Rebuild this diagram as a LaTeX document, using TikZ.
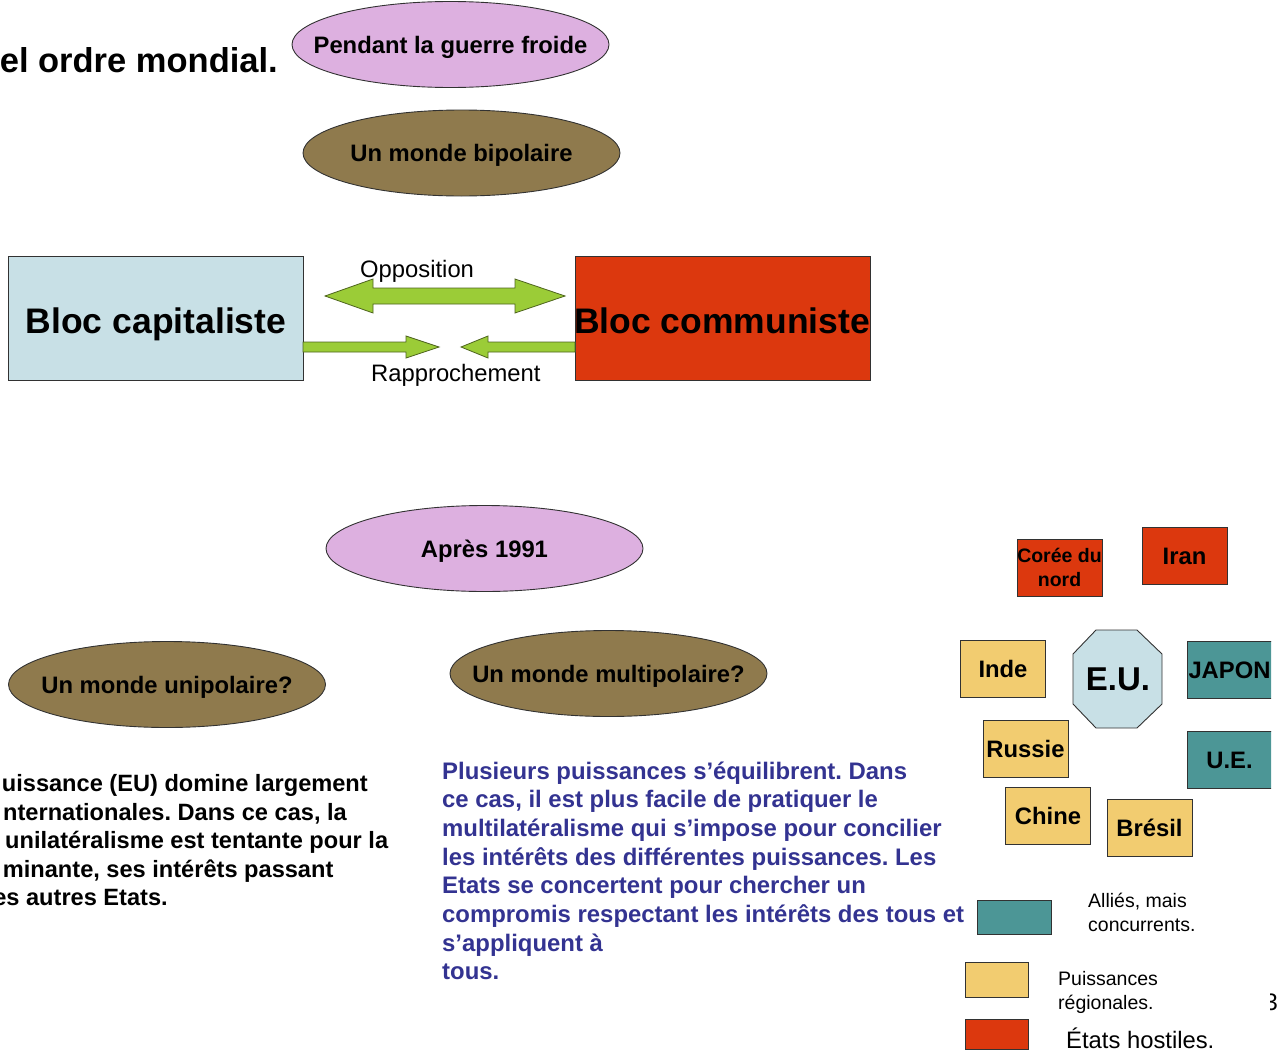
\documentclass[tikz,border=0pt]{standalone}
\usepackage{fontspec}
\setmainfont{Liberation Sans}
\usetikzlibrary{shapes.geometric}
\frenchspacing

\definecolor{violetfill}{RGB}{221,176,224}
\definecolor{brownfill}{RGB}{143,122,77}
\definecolor{blocblue}{RGB}{200,224,230}
\definecolor{blocred}{RGB}{220,56,14}
\definecolor{tealfill}{RGB}{76,150,150}
\definecolor{yellowfill}{RGB}{242,204,112}
\definecolor{arrowgreen}{RGB}{155,204,55}
\definecolor{arrowedge}{RGB}{78,100,30}
\definecolor{textblue}{RGB}{51,51,145}
\definecolor{edgegray}{RGB}{50,50,50}

% zero-width box so the ellipse keeps its own size
\newcommand{\centred}[1]{\makebox[0pt]{#1}}

\begin{document}
\begin{tikzpicture}[x=1pt,y=-1pt,
  bubble/.style={ellipse, draw=edgegray, line width=0.9pt, inner sep=0pt,
    minimum width=317pt, minimum height=86pt,
    font=\fontsize{23.8}{28}\selectfont\bfseries, text height=17pt, text depth=0pt},
  blocbox/.style={draw=edgegray, line width=0.9pt, minimum width=295pt, minimum height=124pt, inner sep=0pt},
  bloctext/.style={font=\fontsize{35.5}{40}\selectfont\bfseries, inner sep=0pt, anchor=base},
  countrybox/.style={draw=edgegray, line width=0.8pt, minimum width=85pt, minimum height=57pt, inner sep=0pt,
    font=\fontsize{23.8}{28}\selectfont\bfseries, text height=17pt, text depth=0pt},
  smallbox/.style={draw=edgegray, line width=0.8pt, minimum width=85pt, minimum height=57pt, inner sep=0pt,
    font=\fontsize{19.5}{23.5}\selectfont\bfseries, align=center},
  keybox/.style={draw=edgegray, line width=0.8pt, inner sep=0pt},
  plaintext/.style={font=\fontsize{23.8}{28}\selectfont, inner sep=0pt},
  keytext/.style={font=\fontsize{19.5}{24}\selectfont, inner sep=0pt, anchor=base west},
  bodytext/.style={font=\fontsize{23.9}{28.7}\selectfont\bfseries, inner sep=0pt},
  lefttext/.style={font=\fontsize{23.6}{28.7}\selectfont\bfseries, inner sep=0pt},
  blockarrow/.style={fill=arrowgreen, draw=arrowedge, line width=0.8pt, line join=miter}
]
\useasboundingbox (0,0) rectangle (1288,1052);
\clip (0,0) rectangle (1288,1052);

% title, cut at the left edge
\node[font=\fontsize{34.5}{40}\selectfont\bfseries, inner sep=0pt, anchor=base east] (title) at (278,72) {el ordre mondial.};

% cold war part
\node[bubble, fill=violetfill] (froide) at (450.5,44.5) {\centred{Pendant la guerre froide}};
\node[bubble, fill=brownfill] (bipol) at (461.5,153) {\centred{Un monde bipolaire}};

\node[blocbox, fill=blocblue] (cap) at (155.5,318) {};
\node[bloctext] (captxt) at (156,333) {Bloc capitaliste};
\node[blocbox, fill=blocred] (com) at (722.5,318) {};
\node[bloctext, anchor=base west] (comtxt) at (574,333) {Bloc communiste};

% opposition double arrow
\draw[blockarrow] (325,296) -- (373,279) -- (373,288) -- (515,288) -- (515,279)
  -- (565,296) -- (515,313) -- (515,304) -- (373,304) -- (373,313) -- cycle;
\node[plaintext, anchor=base west] (opp) at (360,277) {Opposition};

% rapprochement arrows
\draw[blockarrow] (303,342) -- (406,342) -- (406,336) -- (439,347) -- (406,358) -- (406,352) -- (303,352) -- cycle;
\draw[blockarrow] (575,342) -- (488,342) -- (488,336) -- (461,347) -- (488,358) -- (488,352) -- (575,352) -- cycle;
\node[plaintext, anchor=base west] (rap) at (371,381) {Rapprochement};

% after 1991
\node[bubble, fill=violetfill] (apres) at (484.5,548.5) {\centred{Après 1991}};
\node[bubble, fill=brownfill] (unipol) at (167,684.5) {\centred{Un monde unipolaire?}};
\node[bubble, fill=brownfill] (multi) at (608.5,673.5) {\centred{Un monde multipolaire?}};

% unipolar text, cut at the left edge
\node[lefttext, anchor=base west] (u1) at (1.7,791) {uissance (EU) domine largement};
\node[lefttext, anchor=base west] (u2) at (3,820) {nternationales. Dans ce cas, la};
\node[lefttext, anchor=base west] (u3) at (5,848) {unilatéralisme est tentante pour la};
\node[lefttext, anchor=base west] (u4) at (2.7,877) {minante, ses intérêts passant};
\node[lefttext, anchor=base east] (u5) at (168,905) {es autres Etats.};

% multipolar text
\begin{scope}[every node/.style={bodytext, text=textblue, anchor=base west}]
\node (m1) at (442,779) {Plusieurs puissances s’équilibrent. Dans};
\node (m2) at (442,807.7) {ce cas, il est plus facile de pratiquer le};
\node (m3) at (442,836.4) {multilatéralisme qui s’impose pour concilier};
\node (m4) at (442,865.1) {les intérêts des différentes puissances. Les};
\node (m5) at (442,893.8) {Etats se concertent pour chercher un};
\node (m6) at (442,922.5) {compromis respectant les intérêts des tous et};
\node (m7) at (442,951.2) {s’appliquent à};
\node (m8) at (442,979.9) {tous.};
\end{scope}

% powers around the United States
\node[smallbox, fill=blocred] (coree) at (1059.5,567.5) {Corée du\\nord};
\node[countrybox, fill=blocred] (iran) at (1184.5,556) {Iran};
\node[countrybox, fill=yellowfill] (inde) at (1003,669) {Inde};
\node[countrybox, fill=yellowfill] (russie) at (1025.5,748.5) {Russie};
\node[countrybox, fill=yellowfill] (chine) at (1048,816) {Chine};
\node[countrybox, fill=yellowfill] (bresil) at (1149.5,828) {Brésil};
\begin{scope}
\clip (0,0) rectangle (1271,1052);
\node[countrybox, fill=tealfill] (japon) at (1229.5,669.5) {JAPON};
\node[countrybox, fill=tealfill] (ue) at (1229.5,759.5) {U.E.};
\end{scope}

\draw[fill=blocblue, draw=edgegray, line width=0.9pt]
  (1096,630) -- (1137,630) -- (1162,654) -- (1162,704) -- (1137,728) -- (1096,728)
  -- (1073,704) -- (1073,654) -- cycle;
\node[font=\fontsize{33}{38}\selectfont\bfseries, inner sep=0pt, text height=23.6pt, text depth=0pt] (eu) at (1118,679) {E.U.};

% key
\node[keybox, fill=tealfill, minimum width=74pt, minimum height=34pt] (keyteal) at (1014,917) {};
\node[keytext] (k1a) at (1088,907) {Alliés, mais};
\node[keytext] (k1b) at (1088,931) {concurrents.};
\node[keybox, fill=yellowfill, minimum width=63pt, minimum height=35pt] (keyyellow) at (996.5,979.5) {};
\node[keytext] (k2a) at (1058,985) {Puissances};
\node[keytext] (k2b) at (1058,1009) {régionales.};
\node[keybox, fill=blocred, minimum width=63pt, minimum height=30pt] (keyred) at (996.5,1034) {};
\node[plaintext, anchor=base west] (k3) at (1066,1048) {États hostiles.};

% page number, cut at its left
\begin{scope}
\clip (1270,975) rectangle (1288,1020);
\node[plaintext, anchor=base east] (pagenum) at (1278,1010) {3};
\end{scope}
\end{tikzpicture}
\end{document}
